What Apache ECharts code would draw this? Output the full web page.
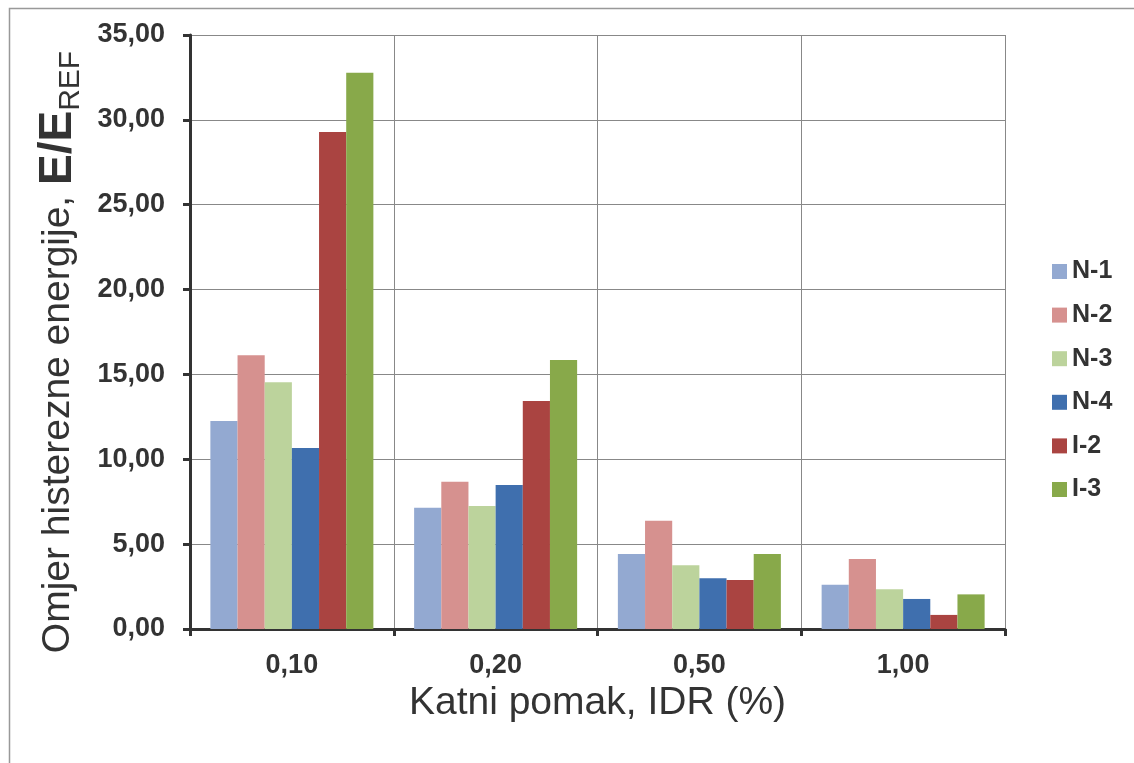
<!DOCTYPE html>
<html>
<head>
<meta charset="utf-8">
<script src="https://cdn.jsdelivr.net/npm/echarts@6/dist/echarts.min.js"></script>
<style>
  html, body { margin: 0; padding: 0; background: #fff; }
  #chart { width: 1134px; height: 763px; }
</style>
</head>
<body>
<div id="chart"></div>
<script>
// data
var categories = ['0,10', '0,20', '0,50', '1,00'];
var seriesNames = ['N-1', 'N-2', 'N-3', 'N-4', 'I-2', 'I-3'];
var n1 = [12.25, 7.15, 4.42, 2.61];
var n2 = [16.13, 8.68, 6.38, 4.12];
var n3 = [14.54, 7.25, 3.75, 2.34];
var n4 = [10.67, 8.49, 2.99, 1.77];
var i2 = [29.29, 13.44, 2.89, 0.83];
var i3 = [32.78, 15.85, 4.42, 2.04];
var colors = ['#93A9D1', '#D6918F', '#BCD39C', '#3F6FAE', '#AA4441', '#88A94A'];

var chart = echarts.init(document.getElementById('chart'));

var allData = [n1, n2, n3, n4, i2, i3];
var series = [];
for (var k = 0; k < seriesNames.length; k++) {
  series.push({
    name: seriesNames[k],
    type: 'bar',
    data: allData[k],
    barGap: '0%',
    barCategoryGap: '20%',
    itemStyle: { color: colors[k] }
  });
}

var option = {
  backgroundColor: '#fff',
  animation: false,
  color: colors,
  textStyle: { fontFamily: 'Liberation Sans, Arial, sans-serif' },
  graphic: [{
    type: 'rect',
    left: 7, top: 6,
    shape: { width: 1140, height: 800 },
    style: { fill: 'none', stroke: '#999', lineWidth: 1.5 },
    silent: true
  }],
  grid: { left: 190, top: 35, right: 129, bottom: 134 },
  legend: {
    orient: 'vertical',
    left: 1047,
    top: 254,
    icon: 'rect',
    itemWidth: 15,
    itemHeight: 15,
    itemGap: 18.6,
    selectedMode: false,
    data: seriesNames,
    textStyle: { fontSize: 25, fontWeight: 'bold', color: '#333', lineHeight: 24 }
  },
  xAxis: {
    type: 'category',
    data: categories,
    name: 'Katni pomak, IDR (%)',
    nameLocation: 'middle',
    nameGap: 46,
    nameTextStyle: { fontSize: 39, color: '#333' },
    axisLine: { lineStyle: { color: '#333', width: 3 } },
    axisTick: { show: true, length: 7, lineStyle: { color: '#333', width: 3 } },
    axisLabel: { fontSize: 27, fontWeight: 'bold', color: '#333', margin: 23 },
    splitLine: { show: true, lineStyle: { color: '#888', width: 1 } }
  },
  yAxis: {
    type: 'value',
    min: 0,
    max: 35,
    interval: 5,
    name: '{a|Omjer histerezne energije, }{b|E/E}{c|REF}',
    nameLocation: 'middle',
    nameRotate: 90,
    nameGap: 110,
    nameTextStyle: {
      padding: [0, 40, 0, 0],
      rich: {
        a: { fontSize: 39, color: '#333', lineHeight: 44 },
        b: { fontSize: 46, fontWeight: 'bold', color: '#333', lineHeight: 44 },
        c: { fontSize: 30, color: '#333', lineHeight: 44, verticalAlign: 'bottom', padding: [0, 0, -6, 0] }
      }
    },
    axisLine: { show: true, lineStyle: { color: '#333', width: 3 } },
    axisTick: { show: true, length: 7, lineStyle: { color: '#333', width: 3 } },
    axisLabel: {
      fontSize: 27, fontWeight: 'bold', color: '#333', margin: 25,
      formatter: function (v) { return v.toFixed(2).replace('.', ','); }
    },
    splitLine: { show: true, lineStyle: { color: '#888', width: 1 } }
  },
  series: series
};

chart.setOption(option);
</script>
</body>
</html>
